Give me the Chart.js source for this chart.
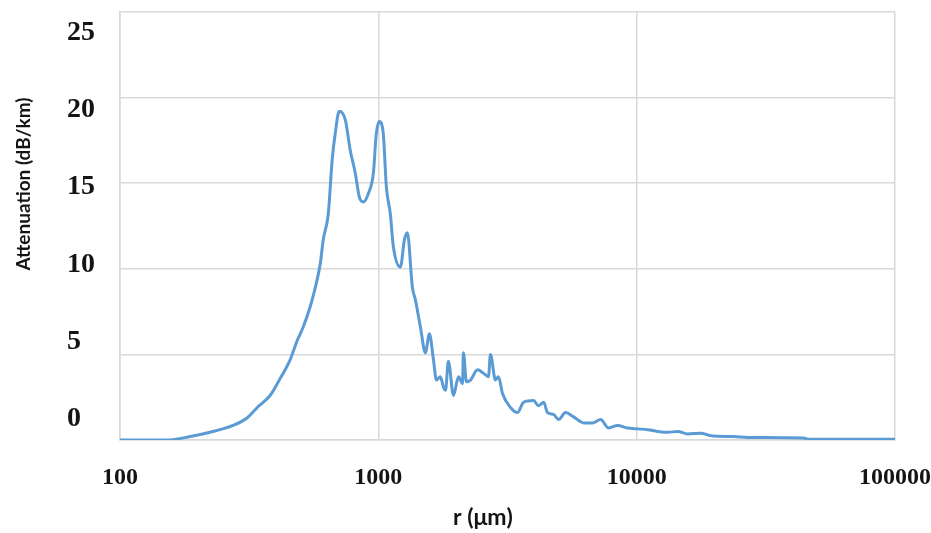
<!DOCTYPE html>
<html>
<head>
<meta charset="utf-8">
<title>Attenuation vs r</title>
<script src="https://cdn.jsdelivr.net/npm/chart.js@4.4.1/dist/chart.umd.min.js"></script>
<style>
  html, body { margin: 0; padding: 0; background: #fff; }
</style>
</head>
<body>
<canvas id="chart" width="931" height="533"></canvas>
<script>
// drop radius r (µm) and attenuation (dB/km)
const radii = [
    100, 152, 187, 223, 274, 311, 340, 381, 417, 456,
    485, 512, 545, 570, 596, 612, 640, 663, 681, 706,
    745, 779, 814, 844, 875, 915, 957, 982, 1009, 1045,
    1074, 1113, 1143, 1217, 1262, 1295, 1355, 1391, 1455, 1521,
    1577, 1634, 1679, 1738, 1786, 1820, 1867, 1954, 2043, 2118,
    2134, 2193, 2274, 2421, 2553, 2669, 2716, 2840, 2917, 3026,
    3250, 3457, 3648, 3989, 4169, 4365, 4519, 4766, 4985, 5305,
    5700, 6237, 6750, 7250, 7785, 8435, 9220, 10090, 11040, 12060,
    13190, 14420, 15770, 17700, 19360, 23770, 26920, 44360, 46000, 100000
];
const attenuation = [
    0, 0, 0.2, 0.45, 0.85, 1.3, 1.9, 2.6, 3.6, 4.7,
    5.8, 6.6, 7.8, 8.9, 10.3, 11.7, 13.2, 16.4, 17.9, 19.2,
    18.7, 16.9, 15.6, 14.2, 13.9, 14.4, 15.6, 17.9, 18.6, 17.9,
    14.8, 13.2, 11.3, 10.1, 11.7, 12.1, 8.9, 8.2, 6.6, 5.1,
    6.2, 4.7, 3.5, 3.7, 3.1, 2.9, 4.6, 2.6, 3.7, 3.3,
    5.1, 3.4, 3.5, 4.1, 3.9, 3.7, 5.0, 3.5, 3.7, 2.7,
    1.9, 1.6, 2.2, 2.3, 2.0, 2.2, 1.6, 1.5, 1.2, 1.6,
    1.35, 1.0, 1.0, 1.2, 0.7, 0.85, 0.7, 0.65, 0.6, 0.5,
    0.45, 0.5, 0.35, 0.4, 0.25, 0.2, 0.15, 0.12, 0.05, 0.05
];
const xTicks = [100, 1000, 10000, 100000];
const yTicks = [0, 5, 10, 15, 20, 25];
const xTitle = 'r (μm)';
const yTitle = 'Attenuation (dB/km)';

const GRID = '#d9d9d9';
const INK = '#141414';

// axis titles sit off-centre in the original, so draw them by hand
const axisTitles = {
    id: 'axisTitles',
    afterDraw(chart) {
        const ctx = chart.ctx;
        ctx.save();
        ctx.fillStyle = INK;
        ctx.textAlign = 'center';
        ctx.textBaseline = 'middle';
        ctx.font = 'bold 23px Lato';
        ctx.fillText(xTitle, 483, 518);
        ctx.font = 'bold 19px Lato';
        ctx.translate(24, 184);
        ctx.rotate(-Math.PI / 2);
        ctx.fillText(yTitle, 0, 0);
        ctx.restore();
    }
};

new Chart(document.getElementById('chart'), {
    type: 'line',
    data: {
        datasets: [{
            data: radii.map((r, i) => ({ x: r, y: attenuation[i] })),
            borderColor: '#5b9bd5',
            borderWidth: 3,
            pointRadius: 0,
            cubicInterpolationMode: 'monotone',
            fill: false
        }]
    },
    options: {
        responsive: false,
        animation: false,
        layout: { padding: { left: 67, right: 36, top: 12, bottom: 0 } },
        plugins: { legend: { display: false }, tooltip: { enabled: false } },
        scales: {
            x: {
                type: 'logarithmic', min: 100, max: 100000,
                afterBuildTicks: s => { s.ticks = xTicks.map(v => ({ value: v })); },
                afterFit: s => { s.height = 93; s.paddingLeft = 0; s.paddingRight = 0; },
                grid: { color: GRID, lineWidth: 1.5, drawTicks: false },
                border: { color: GRID, width: 1.5 },
                ticks: {
                    autoSkip: false, maxRotation: 0, padding: 23, color: INK,
                    font: { family: 'Liberation Serif', size: 24, weight: 'bold' },
                    callback: v => String(v)
                }
            },
            y: {
                min: 0, max: 25,
                afterBuildTicks: s => { s.ticks = yTicks.map(v => ({ value: v })); },
                afterFit: s => { s.width = 0; s.paddingTop = 0; s.paddingBottom = 0; },
                grid: { color: GRID, lineWidth: 1.5, drawTicks: false },
                border: { color: GRID, width: 1.5 },
                ticks: { display: false }
            },
            // label-only axis: the printed numbers sit a little off the grid lines
            yl: {
                position: 'left', min: -1.36, max: 26.34,
                afterBuildTicks: s => { s.ticks = yTicks.map(v => ({ value: v })); },
                afterFit: s => { s.width = 53; s.paddingTop = 0; s.paddingBottom = 0; },
                grid: { display: false, drawTicks: false },
                border: { display: false },
                ticks: {
                    crossAlign: 'far', padding: 0, color: INK,
                    font: { family: 'Liberation Serif', size: 28, weight: 'bold' }
                }
            }
        }
    },
    plugins: [axisTitles]
});
</script>
</body>
</html>
